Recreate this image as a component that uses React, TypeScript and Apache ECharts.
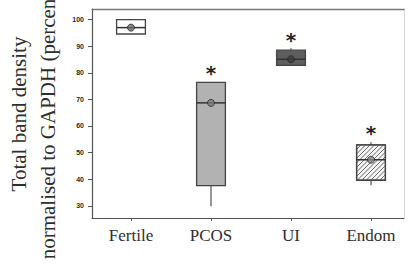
import React, { useEffect, useRef } from "react";
import * as echarts from "echarts";

const categories = ["Fertile", "PCOS", "UI", "Endom"];
// [min, Q1, median, Q3, max]
const boxValues = [
  [94.6, 94.6, 97.0, 100.0, 100.0],
  [29.8, 37.6, 68.7, 76.4, 76.4],
  [82.8, 82.8, 85.1, 88.5, 89.2],
  [37.7, 39.6, 47.3, 52.9, 53.9],
];
const meanValues = [97.0, 68.7, 85.1, 47.3];
const starValues = [null, 81.2, 93.3, 58.6];
const yTicks = [30, 40, 50, 60, 70, 80, 90, 100];
const boxFills = ["#ffffff", "#b2b2b2", "#5e5e5e", "#f4f4f4"];
const meanFills = ["#6a6a6a", "#7a7a7a", "#3c3c3c", "#8a8a8a"];

export default function App() {
  const ref = useRef<HTMLDivElement>(null);
  useEffect(() => {
    if (!ref.current) return;
    document.body.style.margin = "0";
    const chart = echarts.init(ref.current, null, { renderer: "svg" });
    const xIdx = categories.map((_, i) => i);
    const boxData = boxValues.map((b, i) => [i, ...b]);
    const meanData = meanValues.map((m, i) => [i, m]);
    const starData = starValues
      .map((s, i) => (s == null ? null : [i, s]))
      .filter((d) => d != null);
    const serif = "'Liberation Serif', 'Times New Roman', serif";

    chart.setOption({
      animation: false,
      backgroundColor: "#ffffff",
      grid: { left: 92, right: 5, top: 9, bottom: 48, show: false },
      xAxis: [
        {
          type: "value",
          min: -0.4875,
          max: 3.4125,
          splitLine: { show: false },
          axisLine: { show: true, onZero: false, lineStyle: { color: "#555", width: 1.2 } },
          axisTick: { show: true, customValues: xIdx, length: 3, lineStyle: { color: "#555" } },
          axisLabel: {
            customValues: xIdx,
            formatter: (v: number) => categories[Math.round(v)] ?? "",
            fontFamily: serif,
            fontSize: 17,
            color: "#2e2e2e",
            margin: 9,
          },
        },
        {
          type: "value",
          position: "top",
          min: -0.4875,
          max: 3.4125,
          splitLine: { show: false },
          axisLine: { show: true, onZero: false, lineStyle: { color: "#777", width: 1.4 } },
          axisTick: { show: false },
          axisLabel: { show: false },
        },
      ],
      yAxis: [
        {
          type: "value",
          min: 25.4,
          max: 104,
          splitLine: { show: false },
          axisLine: { show: true, onZero: false, lineStyle: { color: "#555", width: 1.2 } },
          axisTick: { show: true, customValues: yTicks, length: 4, lineStyle: { color: "#555" } },
          axisLabel: {
            customValues: yTicks,
            fontSize: 7,
            fontWeight: "bold",
            fontFamily: "'Liberation Sans', Arial, sans-serif",
            color: "#2a2a2a",
            margin: 8,
          },
        },
        {
          type: "value",
          position: "right",
          min: 25.4,
          max: 104,
          splitLine: { show: false },
          axisLine: { show: true, onZero: false, lineStyle: { color: "#d8d8d8", width: 1 } },
          axisTick: { show: false },
          axisLabel: { show: false },
        },
      ],
      graphic: [
        {
          type: "text",
          x: 18.5,
          y: 114,
          rotation: Math.PI / 2,
          style: {
            text: "Total band density",
            fontFamily: serif,
            fontSize: 21,
            fill: "#2e2e2e",
            align: "center",
            verticalAlign: "middle",
          },
        },
        {
          type: "text",
          x: 48,
          y: 108,
          rotation: Math.PI / 2,
          style: {
            text: "normalised to GAPDH (percentage)",
            fontFamily: serif,
            fontSize: 21,
            fill: "#2e2e2e",
            align: "center",
            verticalAlign: "middle",
          },
        },
      ],
      series: [
        {
          type: "custom",
          data: boxData,
          encode: { x: 0, y: [1, 2, 3, 4, 5] },
          renderItem: (params: any, api: any) => {
            const i = params.dataIndex;
            const x = api.value(0);
            const pLow = api.coord([x, api.value(1)]);
            const pQ1 = api.coord([x, api.value(2)]);
            const pMed = api.coord([x, api.value(3)]);
            const pQ3 = api.coord([x, api.value(4)]);
            const pHigh = api.coord([x, api.value(5)]);
            const half = (api.size([1, 0])[0] * 0.36) / 2;
            const cx = pMed[0];
            const x0 = cx - half;
            const x1 = cx + half;
            const y0 = pQ3[1];
            const y1 = pQ1[1];
            const children: any[] = [];
            if (pLow[1] - pQ1[1] > 0.5) {
              children.push({
                type: "line",
                shape: { x1: cx, y1: pQ1[1], x2: cx, y2: pLow[1] },
                style: { stroke: "#555", lineWidth: 1.2 },
              });
            }
            if (pQ3[1] - pHigh[1] > 0.5) {
              children.push({
                type: "line",
                shape: { x1: cx, y1: pHigh[1], x2: cx, y2: pQ3[1] },
                style: { stroke: "#555", lineWidth: 1.2 },
              });
            }
            children.push({
              type: "rect",
              shape: { x: x0, y: y0, width: x1 - x0, height: y1 - y0 },
              style: { fill: boxFills[i], stroke: "#444", lineWidth: 1.3 },
            });
            if (i === 3) {
              const step = 4.5;
              for (let k = x0 + y0 + step; k < x1 + y1; k += step) {
                const xa = Math.max(x0, k - y1);
                const xb = Math.min(x1, k - y0);
                if (xb > xa) {
                  children.push({
                    type: "line",
                    shape: { x1: xa, y1: k - xa, x2: xb, y2: k - xb },
                    style: { stroke: "#6a6a6a", lineWidth: 1 },
                  });
                }
              }
              children.push({
                type: "rect",
                shape: { x: x0, y: y0, width: x1 - x0, height: y1 - y0 },
                style: { fill: "none", stroke: "#444", lineWidth: 1.3 },
              });
            }
            children.push({
              type: "line",
              shape: { x1: x0, y1: pMed[1], x2: x1, y2: pMed[1] },
              style: { stroke: "#333", lineWidth: 1.5 },
            });
            return { type: "group", children };
          },
          z: 2,
        },
        {
          type: "scatter",
          data: meanData,
          symbol: "circle",
          symbolSize: 7,
          itemStyle: {
            color: (p: any) => meanFills[p.dataIndex],
            borderColor: "#2a2a2a",
            borderWidth: 1,
          },
          z: 3,
        },
        {
          type: "custom",
          data: starData,
          encode: { x: 0, y: 1 },
          renderItem: (params: any, api: any) => {
            const p = api.coord([api.value(0), api.value(1)]);
            return {
              type: "text",
              x: p[0],
              y: p[1] + 3,
              style: {
                text: "*",
                fontFamily: "'DejaVu Sans', sans-serif",
                fontWeight: "bold",
                fontSize: 20,
                fill: "#222",
                align: "center",
                verticalAlign: "middle",
              },
            };
          },
          z: 4,
        },
      ],
    });
    return () => chart.dispose();
  }, []);
  return <div ref={ref} style={{ width: 409, height: 266 }} />;
}
